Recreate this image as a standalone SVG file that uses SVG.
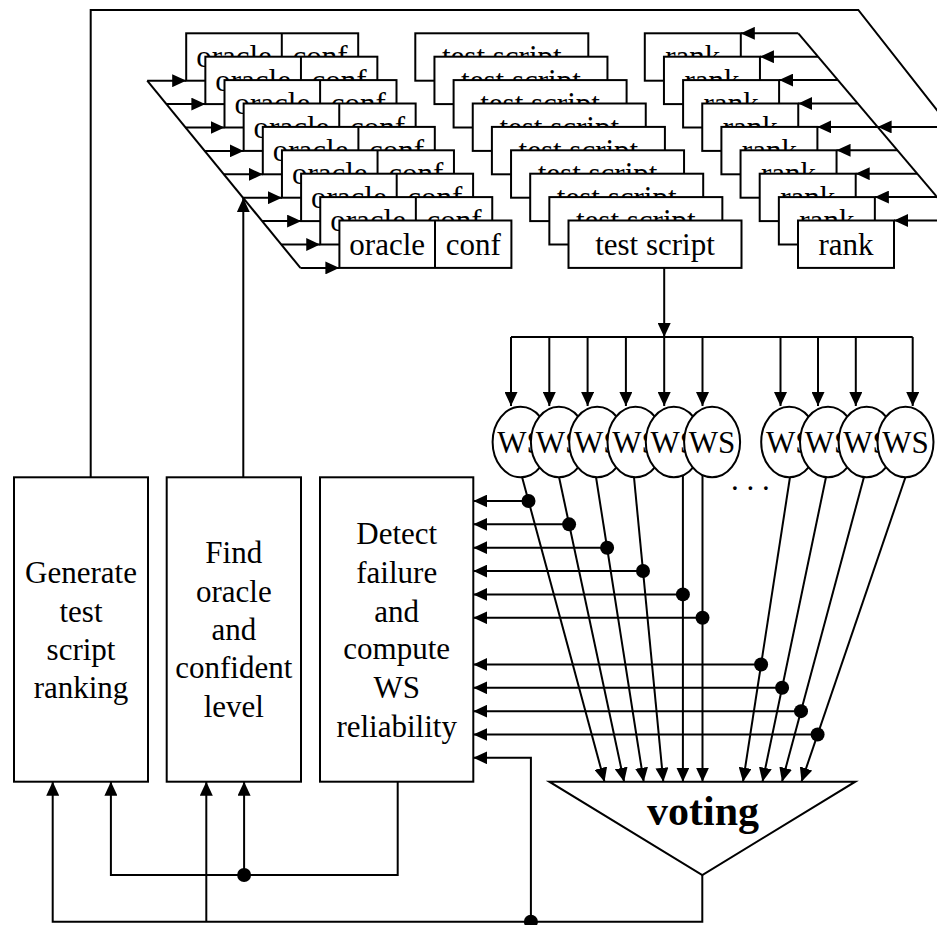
<svg xmlns="http://www.w3.org/2000/svg" width="937" height="925" viewBox="0 0 937 925">
<style>
.b{fill:#fff;stroke:#000;stroke-width:2}
.t{font-family:"Liberation Serif","Times New Roman",serif;font-size:31px;text-anchor:middle;fill:#000;stroke:none}
.v{font-family:"Liberation Serif","Times New Roman",serif;font-size:42px;font-weight:bold;text-anchor:middle;fill:#000}
.c{fill:none;stroke:#000;stroke-width:2}
.a{marker-end:url(#ah)}
.d{fill:#000;stroke:none}
</style>
<defs>
<marker id="ah" markerUnits="userSpaceOnUse" markerWidth="14" markerHeight="13" viewBox="0 0 14 13" refX="14" refY="6.5" orient="auto"><path d="M0,0L14,6.5L0,13z" fill="#000"/></marker>
</defs>
<rect width="937" height="925" fill="#fff"/>
<g id="connectors" class="c">
<polyline points="90.7,477.3 90.7,10 858.3,10 958,136.7"/>
<line x1="798.3" y1="33.3" x2="965" y2="230"/>
<line class="a" x1="945" y1="126.9" x2="877.6" y2="126.9"/>
<line class="a" x1="798.3" y1="33.3" x2="740.8" y2="33.3"/>
<line class="a" x1="818.1" y1="56.7" x2="759.95" y2="56.7"/>
<line class="a" x1="837.9" y1="80.1" x2="779.1" y2="80.1"/>
<line class="a" x1="857.8" y1="103.5" x2="798.25" y2="103.5"/>
<line class="a" x1="877.6" y1="126.9" x2="817.4" y2="126.9"/>
<line class="a" x1="897.4" y1="150.3" x2="836.55" y2="150.3"/>
<line class="a" x1="917.2" y1="173.7" x2="855.7" y2="173.7"/>
<line class="a" x1="945" y1="197.1" x2="874.85" y2="197.1"/>
<line class="a" x1="945" y1="220.5" x2="894" y2="220.5"/>
<line x1="147.2" y1="80.7" x2="300.4" y2="267.9"/>
<line class="a" x1="147.2" y1="80.7" x2="186.2" y2="80.7"/>
<line class="a" x1="166.35" y1="104.1" x2="205.35" y2="104.1"/>
<line class="a" x1="185.5" y1="127.5" x2="224.5" y2="127.5"/>
<line class="a" x1="204.65" y1="150.9" x2="243.65" y2="150.9"/>
<line class="a" x1="223.8" y1="174.3" x2="262.8" y2="174.3"/>
<line class="a" x1="242.95" y1="197.7" x2="281.95" y2="197.7"/>
<line class="a" x1="262.1" y1="221.1" x2="301.1" y2="221.1"/>
<line class="a" x1="281.25" y1="244.5" x2="320.25" y2="244.5"/>
<line class="a" x1="300.4" y1="267.9" x2="339.4" y2="267.9"/>
<line class="a" x1="243.3" y1="477.3" x2="243.3" y2="198.1"/>
<line class="a" x1="664.2" y1="267.9" x2="664.2" y2="337"/>
<line x1="511" y1="337" x2="912.7" y2="337"/>
<line class="a" x1="511" y1="337" x2="511" y2="406"/>
<line class="a" x1="549.3" y1="337" x2="549.3" y2="406"/>
<line class="a" x1="587.6" y1="337" x2="587.6" y2="406"/>
<line class="a" x1="625.9" y1="337" x2="625.9" y2="406"/>
<line class="a" x1="664.2" y1="337" x2="664.2" y2="406"/>
<line class="a" x1="702.5" y1="337" x2="702.5" y2="406"/>
<line class="a" x1="780.5" y1="337" x2="780.5" y2="406"/>
<line class="a" x1="818" y1="337" x2="818" y2="406"/>
<line class="a" x1="855.8" y1="337" x2="855.8" y2="406"/>
<line class="a" x1="912.7" y1="337" x2="912.7" y2="406"/>
<line class="a" x1="519.6" y1="468" x2="604.5" y2="781.7"/>
<line class="a" x1="557.1" y1="468" x2="624.1" y2="781.7"/>
<line class="a" x1="594.6" y1="468" x2="643.7" y2="781.7"/>
<line class="a" x1="633.1" y1="468" x2="663.3" y2="781.7"/>
<line class="a" x1="682.9" y1="465" x2="682.9" y2="781.7"/>
<line class="a" x1="702.5" y1="465" x2="702.5" y2="781.7"/>
<line class="a" x1="791.4" y1="468" x2="743" y2="781.7"/>
<line class="a" x1="827.9" y1="468" x2="762.5" y2="781.7"/>
<line class="a" x1="866.4" y1="468" x2="782" y2="781.7"/>
<line class="a" x1="908.6" y1="468" x2="801.5" y2="781.7"/>
<line class="a" x1="528.5" y1="501" x2="473.3" y2="501"/>
<line class="a" x1="569.1" y1="524.35" x2="473.3" y2="524.35"/>
<line class="a" x1="607.1" y1="547.7" x2="473.3" y2="547.7"/>
<line class="a" x1="643" y1="571.05" x2="473.3" y2="571.05"/>
<line class="a" x1="682.9" y1="594.4" x2="473.3" y2="594.4"/>
<line class="a" x1="702.5" y1="617.75" x2="473.3" y2="617.75"/>
<line class="a" x1="761.1" y1="664.45" x2="473.3" y2="664.45"/>
<line class="a" x1="782.1" y1="687.8" x2="473.3" y2="687.8"/>
<line class="a" x1="801" y1="711.15" x2="473.3" y2="711.15"/>
<line class="a" x1="817.6" y1="734.5" x2="473.3" y2="734.5"/>
<polyline class="a" points="702.3,875 702.3,921.7 52.7,921.7 52.7,781.7"/>
<line class="a" x1="206.3" y1="921.7" x2="206.3" y2="781.7"/>
<polyline class="a" points="530.9,921.7 530.9,757.85 473.3,757.85"/>
<polyline class="a" points="397.7,781.7 397.7,875 110.9,875 110.9,781.7"/>
<line class="a" x1="244.1" y1="875" x2="244.1" y2="781.7"/>
<circle class="d" cx="528.5" cy="501" r="7"/>
<circle class="d" cx="569.1" cy="524.35" r="7"/>
<circle class="d" cx="607.1" cy="547.7" r="7"/>
<circle class="d" cx="643" cy="571.05" r="7"/>
<circle class="d" cx="682.9" cy="594.4" r="7"/>
<circle class="d" cx="702.5" cy="617.75" r="7"/>
<circle class="d" cx="761.1" cy="664.45" r="7"/>
<circle class="d" cx="782.1" cy="687.8" r="7"/>
<circle class="d" cx="801" cy="711.15" r="7"/>
<circle class="d" cx="817.6" cy="734.5" r="7"/>
<circle class="d" cx="244.1" cy="875" r="7"/>
<circle class="d" cx="530.9" cy="921.7" r="7"/>
</g>
<g id="oracle-stack">
<g id="oracle1"><rect class="b" x="186.2" y="33.3" width="172" height="47.4"/><line class="c" x1="281.8" y1="33.3" x2="281.8" y2="80.7"/><text class="t" x="234" y="67.3">oracle</text><text class="t" x="320" y="67.3">conf</text></g>
<g id="oracle2"><rect class="b" x="205.35" y="56.7" width="172" height="47.4"/><line class="c" x1="300.95" y1="56.7" x2="300.95" y2="104.1"/><text class="t" x="253.15" y="90.7">oracle</text><text class="t" x="339.15" y="90.7">conf</text></g>
<g id="oracle3"><rect class="b" x="224.5" y="80.1" width="172" height="47.4"/><line class="c" x1="320.1" y1="80.1" x2="320.1" y2="127.5"/><text class="t" x="272.3" y="114.1">oracle</text><text class="t" x="358.3" y="114.1">conf</text></g>
<g id="oracle4"><rect class="b" x="243.65" y="103.5" width="172" height="47.4"/><line class="c" x1="339.25" y1="103.5" x2="339.25" y2="150.9"/><text class="t" x="291.45" y="137.5">oracle</text><text class="t" x="377.45" y="137.5">conf</text></g>
<g id="oracle5"><rect class="b" x="262.8" y="126.9" width="172" height="47.4"/><line class="c" x1="358.4" y1="126.9" x2="358.4" y2="174.3"/><text class="t" x="310.6" y="160.9">oracle</text><text class="t" x="396.6" y="160.9">conf</text></g>
<g id="oracle6"><rect class="b" x="281.95" y="150.3" width="172" height="47.4"/><line class="c" x1="377.55" y1="150.3" x2="377.55" y2="197.7"/><text class="t" x="329.75" y="184.3">oracle</text><text class="t" x="415.75" y="184.3">conf</text></g>
<g id="oracle7"><rect class="b" x="301.1" y="173.7" width="172" height="47.4"/><line class="c" x1="396.7" y1="173.7" x2="396.7" y2="221.1"/><text class="t" x="348.9" y="207.7">oracle</text><text class="t" x="434.9" y="207.7">conf</text></g>
<g id="oracle8"><rect class="b" x="320.25" y="197.1" width="172" height="47.4"/><line class="c" x1="415.85" y1="197.1" x2="415.85" y2="244.5"/><text class="t" x="368.05" y="231.1">oracle</text><text class="t" x="454.05" y="231.1">conf</text></g>
<g id="oracle9"><rect class="b" x="339.4" y="220.5" width="172" height="47.4"/><line class="c" x1="435" y1="220.5" x2="435" y2="267.9"/><text class="t" x="387.2" y="254.5">oracle</text><text class="t" x="473.2" y="254.5">conf</text></g>
</g>
<g id="test-stack">
<g id="test1"><rect class="b" x="415.3" y="33.3" width="173" height="47.4"/><text class="t" x="501.8" y="67.3">test script</text></g>
<g id="test2"><rect class="b" x="434.45" y="56.7" width="173" height="47.4"/><text class="t" x="520.95" y="90.7">test script</text></g>
<g id="test3"><rect class="b" x="453.6" y="80.1" width="173" height="47.4"/><text class="t" x="540.1" y="114.1">test script</text></g>
<g id="test4"><rect class="b" x="472.75" y="103.5" width="173" height="47.4"/><text class="t" x="559.25" y="137.5">test script</text></g>
<g id="test5"><rect class="b" x="491.9" y="126.9" width="173" height="47.4"/><text class="t" x="578.4" y="160.9">test script</text></g>
<g id="test6"><rect class="b" x="511.05" y="150.3" width="173" height="47.4"/><text class="t" x="597.55" y="184.3">test script</text></g>
<g id="test7"><rect class="b" x="530.2" y="173.7" width="173" height="47.4"/><text class="t" x="616.7" y="207.7">test script</text></g>
<g id="test8"><rect class="b" x="549.35" y="197.1" width="173" height="47.4"/><text class="t" x="635.85" y="231.1">test script</text></g>
<g id="test9"><rect class="b" x="568.5" y="220.5" width="173" height="47.4"/><text class="t" x="655" y="254.5">test script</text></g>
</g>
<g id="rank-stack">
<g id="rank1"><rect class="b" x="644.8" y="33.3" width="96" height="47.4"/><text class="t" x="692.8" y="67.3">rank</text></g>
<g id="rank2"><rect class="b" x="663.95" y="56.7" width="96" height="47.4"/><text class="t" x="711.95" y="90.7">rank</text></g>
<g id="rank3"><rect class="b" x="683.1" y="80.1" width="96" height="47.4"/><text class="t" x="731.1" y="114.1">rank</text></g>
<g id="rank4"><rect class="b" x="702.25" y="103.5" width="96" height="47.4"/><text class="t" x="750.25" y="137.5">rank</text></g>
<g id="rank5"><rect class="b" x="721.4" y="126.9" width="96" height="47.4"/><text class="t" x="769.4" y="160.9">rank</text></g>
<g id="rank6"><rect class="b" x="740.55" y="150.3" width="96" height="47.4"/><text class="t" x="788.55" y="184.3">rank</text></g>
<g id="rank7"><rect class="b" x="759.7" y="173.7" width="96" height="47.4"/><text class="t" x="807.7" y="207.7">rank</text></g>
<g id="rank8"><rect class="b" x="778.85" y="197.1" width="96" height="47.4"/><text class="t" x="826.85" y="231.1">rank</text></g>
<g id="rank9"><rect class="b" x="798" y="220.5" width="96" height="47.4"/><text class="t" x="846" y="254.5">rank</text></g>
</g>
<g id="ws-group1">
<g id="ws1"><ellipse class="b" cx="520.6" cy="442" rx="28" ry="35.3"/><text class="t" x="520.6" y="453.3">WS</text></g>
<g id="ws2"><ellipse class="b" cx="558.9" cy="442" rx="28" ry="35.3"/><text class="t" x="558.9" y="453.3">WS</text></g>
<g id="ws3"><ellipse class="b" cx="597.2" cy="442" rx="28" ry="35.3"/><text class="t" x="597.2" y="453.3">WS</text></g>
<g id="ws4"><ellipse class="b" cx="635.5" cy="442" rx="28" ry="35.3"/><text class="t" x="635.5" y="453.3">WS</text></g>
<g id="ws5"><ellipse class="b" cx="673.8" cy="442" rx="28" ry="35.3"/><text class="t" x="673.8" y="453.3">WS</text></g>
<g id="ws6"><ellipse class="b" cx="712.1" cy="442" rx="28" ry="35.3"/><text class="t" x="712.1" y="453.3">WS</text></g>
</g>
<g id="ws-group2">
<g id="ws7"><ellipse class="b" cx="789.2" cy="442" rx="28" ry="35.3"/><text class="t" x="789.2" y="453.3">WS</text></g>
<g id="ws8"><ellipse class="b" cx="828" cy="442" rx="28" ry="35.3"/><text class="t" x="828" y="453.3">WS</text></g>
<g id="ws9"><ellipse class="b" cx="866.6" cy="442" rx="28" ry="35.3"/><text class="t" x="866.6" y="453.3">WS</text></g>
<g id="ws10"><ellipse class="b" cx="905.5" cy="442" rx="28" ry="35.3"/><text class="t" x="905.5" y="453.3">WS</text></g>
</g>
<text class="t" x="731" y="490" style="text-anchor:start">. . .</text>
<g id="generate">
<rect class="b" x="14" y="477.3" width="134" height="304.4"/>
<text class="t" x="81" y="583.3">Generate</text>
<text class="t" x="81" y="621.7">test</text>
<text class="t" x="81" y="660">script</text>
<text class="t" x="81" y="698.3">ranking</text>
</g>
<g id="find">
<rect class="b" x="166.7" y="477.3" width="134.3" height="304.4"/>
<text class="t" x="233.8" y="563.3">Find</text>
<text class="t" x="233.8" y="601.7">oracle</text>
<text class="t" x="233.8" y="640">and</text>
<text class="t" x="233.8" y="678.3">confident</text>
<text class="t" x="233.8" y="716.7">level</text>
</g>
<g id="detect">
<rect class="b" x="320" y="477.3" width="153.3" height="304.4"/>
<text class="t" x="396.7" y="544">Detect</text>
<text class="t" x="396.7" y="583.3">failure</text>
<text class="t" x="396.7" y="621.7">and</text>
<text class="t" x="396.7" y="659.3">compute</text>
<text class="t" x="396.7" y="698.3">WS</text>
<text class="t" x="396.7" y="736.7">reliability</text>
</g>
<g id="voting">
<polygon class="b" points="549.3,781.7 855.3,781.7 702.3,875"/>
<text class="v" x="703" y="825">voting</text>
</g>
</svg>
